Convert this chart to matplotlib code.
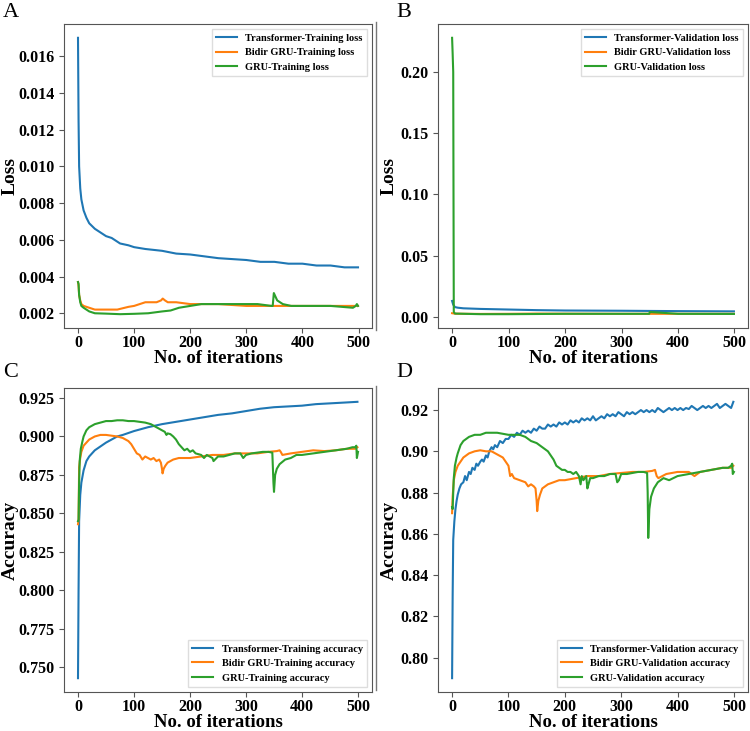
import matplotlib
matplotlib.use("Agg")
from matplotlib import pyplot as plt
from matplotlib.lines import Line2D

plt.rcParams['font.family'] = ['Liberation Serif', 'DejaVu Serif']

# ---- A: training loss ----
tr_loss_x = [0, 1, 2, 4, 6, 8, 10, 15, 20, 30, 40, 50, 60, 75, 90, 100, 120, 150, 175, 200,
             225, 250, 275, 300, 325, 350, 375, 400, 425, 450, 475, 499]
tr_loss_y = [0.0170, 0.0125, 0.0100, 0.0088, 0.0082, 0.0079, 0.0076, 0.0072, 0.0069, 0.0066,
             0.0064, 0.0062, 0.0061, 0.0058, 0.0057, 0.0056, 0.0055, 0.0054, 0.00525, 0.0052,
             0.0051, 0.0050, 0.00495, 0.0049, 0.0048, 0.0048, 0.0047, 0.0047, 0.0046, 0.0046,
             0.0045, 0.0045]
bg_loss_x = [0, 1, 2, 4, 6, 10, 20, 30, 50, 70, 90, 100, 110, 120, 130, 140, 148, 151, 155,
             160, 175, 200, 225, 250, 300, 350, 400, 450, 499]
bg_loss_y = [0.0037, 0.0035, 0.0030, 0.0027, 0.0025, 0.0024, 0.0023, 0.0022, 0.0022, 0.0022,
             0.00235, 0.0024, 0.0025, 0.0026, 0.0026, 0.0026, 0.0027, 0.0028, 0.0027, 0.0026,
             0.0026, 0.0025, 0.0025, 0.0025, 0.0024, 0.0024, 0.0024, 0.0024, 0.0024]
g_loss_x = [0, 1, 2, 4, 6, 10, 20, 30, 50, 75, 100, 125, 150, 165, 180, 200, 220, 240, 260,
            280, 300, 320, 345, 347, 349, 355, 365, 380, 400, 450, 490, 495, 497, 499]
g_loss_y = [0.0037, 0.0036, 0.0030, 0.0026, 0.0024, 0.0023, 0.0021, 0.0020, 0.00198, 0.00195,
            0.00197, 0.0020, 0.0021, 0.00215, 0.0023, 0.0024, 0.0025, 0.0025, 0.0025, 0.0025,
            0.0025, 0.0025, 0.0024, 0.0024, 0.0031, 0.0027, 0.0025, 0.0024, 0.0024, 0.0024,
            0.0023, 0.0024, 0.0025, 0.0024]

# ---- B: validation loss ----
tv_loss_x = [0, 2, 5, 10, 20, 50, 100, 150, 200, 300, 400, 499]
tv_loss_y = [0.013, 0.010, 0.008, 0.0075, 0.007, 0.0065, 0.006, 0.0055, 0.0052, 0.005,
             0.0047, 0.0045]
bgv_loss_x = [0, 5, 50, 100, 150, 200, 300, 400, 499]
bgv_loss_y = [0.003, 0.0026, 0.0024, 0.0025, 0.0027, 0.0026, 0.0025, 0.0025, 0.0025]
gv_loss_x = [0, 1, 2, 3, 5, 50, 100, 200, 300, 349, 350, 400, 499]
gv_loss_y = [0.228, 0.215, 0.200, 0.004, 0.0027, 0.0022, 0.0022, 0.0025, 0.0025, 0.0025,
             0.004, 0.0025, 0.0024]

# ---- C: training accuracy ----
tr_acc_x = [0, 1, 2, 4, 6, 10, 15, 20, 30, 40, 50, 60, 70, 80, 100, 125, 150, 175, 200, 225,
            250, 275, 300, 325, 350, 375, 400, 425, 450, 475, 499]
tr_acc_y = [0.743, 0.800, 0.845, 0.862, 0.870, 0.878, 0.884, 0.887, 0.891, 0.8935, 0.896,
            0.898, 0.900, 0.901, 0.9035, 0.906, 0.908, 0.9095, 0.911, 0.9125, 0.914, 0.915,
            0.9165, 0.918, 0.919, 0.9195, 0.920, 0.921, 0.9215, 0.922, 0.9225]
bg_acc_x = [0, 1, 2, 4, 6, 10, 20, 30, 40, 50, 60, 70, 80, 90, 95, 100, 105, 110, 115, 120,
            125, 130, 135, 140, 145, 148, 150, 151, 153, 156, 160, 170, 180, 190, 200, 220, 240,
            260, 280, 300, 320, 340, 355, 360, 362, 365, 380, 400, 420, 440, 460, 480, 495, 499]
bg_acc_y = [0.843, 0.846, 0.880, 0.886, 0.890, 0.894, 0.898, 0.900, 0.901, 0.901, 0.9005,
            0.900, 0.899, 0.897, 0.895, 0.892, 0.889, 0.888, 0.885, 0.887, 0.886, 0.885,
            0.886, 0.884, 0.885, 0.883, 0.879, 0.876, 0.879, 0.881, 0.883, 0.885, 0.886,
            0.886, 0.886, 0.887, 0.888, 0.888, 0.889, 0.889, 0.889, 0.890, 0.8905, 0.891,
            0.890, 0.888, 0.889, 0.890, 0.891, 0.8905, 0.891, 0.892, 0.892, 0.893]
g_acc_x = [0, 1, 2, 3, 5, 8, 10, 15, 20, 30, 40, 50, 60, 70, 80, 90, 100, 110, 120, 130, 140,
           150, 155, 158, 160, 165, 170, 175, 180, 185, 190, 195, 200, 205, 210, 220, 225, 230,
           240, 242, 250, 260, 270, 280, 290, 295, 300, 310, 320, 330, 340, 347, 349, 350, 352,
           355, 360, 370, 380, 390, 400, 420, 440, 460, 480, 490, 495, 497, 498, 500]
g_acc_y = [0.845, 0.846, 0.870, 0.884, 0.892, 0.897, 0.900, 0.904, 0.906, 0.908, 0.909, 0.910,
           0.910, 0.9105, 0.9105, 0.910, 0.910, 0.9095, 0.909, 0.908, 0.906, 0.904, 0.903,
           0.901, 0.902, 0.9015, 0.900, 0.898, 0.895, 0.893, 0.891, 0.892, 0.890, 0.891,
           0.889, 0.888, 0.886, 0.888, 0.886, 0.884, 0.887, 0.887, 0.888, 0.889, 0.889, 0.886,
           0.888, 0.889, 0.8895, 0.890, 0.890, 0.8895, 0.870, 0.864, 0.875, 0.879, 0.882,
           0.885, 0.886, 0.888, 0.888, 0.889, 0.890, 0.891, 0.892, 0.893, 0.893, 0.894, 0.886,
           0.890]

# ---- D: validation accuracy ----
tv_acc_x = [0, 1, 2, 4, 6, 8, 10, 13, 16, 20, 23, 26, 30, 33, 36, 40, 43, 46, 50, 53, 56, 60,
            63, 66, 70, 73, 76, 80, 85, 90, 95,
            100, 105, 110, 115, 120, 125, 130, 135, 140, 145, 150, 155, 160, 165, 170, 175,
            180, 185, 190, 195, 200, 205, 210, 215, 220, 225, 230, 235, 240, 245, 250, 255,
            260, 265, 270, 275, 280, 285, 290, 295, 300, 305, 310, 315, 320, 325, 330, 335,
            340, 345, 350, 355, 360, 365, 370, 375, 380, 385, 390, 395, 400, 405, 410, 415,
            420, 425, 430, 435, 440, 445, 450, 455, 460, 465, 470, 475, 480, 485, 490, 495, 499]
tv_acc_y = [0.790, 0.830, 0.857, 0.866, 0.872, 0.876, 0.879, 0.882, 0.884, 0.885, 0.888,
            0.886, 0.890, 0.889, 0.892, 0.891, 0.894, 0.893, 0.895, 0.896, 0.895, 0.898,
            0.897, 0.900, 0.902, 0.901, 0.903, 0.902, 0.905, 0.904, 0.906,
            0.906, 0.908, 0.907, 0.909, 0.908, 0.910, 0.909, 0.910, 0.909, 0.911, 0.910,
            0.912, 0.911, 0.911, 0.913, 0.912, 0.913, 0.912, 0.914, 0.913, 0.914, 0.913,
            0.915, 0.914, 0.915, 0.914, 0.916, 0.915, 0.916, 0.915, 0.917, 0.915, 0.916,
            0.917, 0.916, 0.918, 0.917, 0.918, 0.917, 0.919, 0.918, 0.917, 0.919, 0.918,
            0.919, 0.918, 0.919, 0.920, 0.919, 0.920, 0.919, 0.920, 0.919, 0.921, 0.920,
            0.919, 0.920, 0.921, 0.920, 0.921, 0.920, 0.921, 0.920, 0.921, 0.9205, 0.922,
            0.921, 0.920, 0.921, 0.922, 0.921, 0.922, 0.921, 0.922, 0.923, 0.921, 0.922,
            0.923, 0.922, 0.921, 0.924]
bg_vacc_x = [0, 1, 3, 6, 10, 20, 30, 40, 50, 60, 70, 80, 90, 95, 100, 103, 106, 110, 120, 130,
             135, 140, 145, 148, 150, 151, 153, 156, 160, 170, 180, 190, 200, 220, 240, 260,
             280, 300, 320, 340, 355, 360, 363, 366, 380, 400, 420, 430, 440, 460, 480, 495,
             499]
bg_vacc_y = [0.870, 0.878, 0.886, 0.890, 0.893, 0.897, 0.899, 0.900, 0.9005, 0.900, 0.900,
             0.8985, 0.897, 0.895, 0.893, 0.888, 0.889, 0.887, 0.886, 0.885, 0.883, 0.884,
             0.883, 0.882, 0.876, 0.871, 0.876, 0.879, 0.882, 0.884, 0.885, 0.886, 0.886,
             0.887, 0.888, 0.888, 0.889, 0.8895, 0.890, 0.890, 0.8905, 0.891, 0.888, 0.887,
             0.889, 0.890, 0.890, 0.888, 0.890, 0.891, 0.892, 0.892, 0.893]
g_vacc_x = [0, 1, 2, 3, 5, 8, 10, 15, 20, 30, 40, 50, 60, 70, 80, 90, 100, 110, 120, 130, 140,
            150, 160, 165, 170, 175, 180, 185, 190, 195, 200, 205, 210, 215, 220, 225, 228, 230,
            233, 238, 240, 242, 245, 250, 260, 270, 280, 290, 293, 296, 300, 310, 320, 330,
            340, 346, 347, 348, 350, 353, 358, 365, 375, 385, 400, 420, 440, 460, 480, 490,
            495, 497, 498, 500]
g_vacc_y = [0.873, 0.872, 0.880, 0.887, 0.893, 0.897, 0.899, 0.903, 0.905, 0.907, 0.908,
            0.908, 0.909, 0.909, 0.909, 0.9085, 0.908, 0.908, 0.908, 0.907, 0.905, 0.904,
            0.902, 0.901, 0.900, 0.898, 0.896, 0.893, 0.892, 0.891, 0.891, 0.890, 0.890,
            0.889, 0.890, 0.888, 0.884, 0.888, 0.886, 0.888, 0.882, 0.884, 0.887, 0.887,
            0.888, 0.888, 0.889, 0.889, 0.885, 0.886, 0.889, 0.889, 0.8895, 0.890, 0.890,
            0.8895, 0.880, 0.858, 0.872, 0.878, 0.882, 0.885, 0.887, 0.886, 0.888, 0.889,
            0.890, 0.891, 0.892, 0.892, 0.893, 0.894, 0.889, 0.890]

panels = [
    ('A', 'Loss', [(tr_loss_x, tr_loss_y, 'Transformer-Training loss'),
                   (bg_loss_x, bg_loss_y, 'Bidir GRU-Training loss'),
                   (g_loss_x, g_loss_y, 'GRU-Training loss')], 'upper right'),
    ('B', 'Loss', [(tv_loss_x, tv_loss_y, 'Transformer-Validation loss'),
                   (bgv_loss_x, bgv_loss_y, 'Bidir GRU-Validation loss'),
                   (gv_loss_x, gv_loss_y, 'GRU-Validation loss')], 'upper right'),
    ('C', 'Accuracy', [(tr_acc_x, tr_acc_y, 'Transformer-Training accuracy'),
                       (bg_acc_x, bg_acc_y, 'Bidir GRU-Training accuracy'),
                       (g_acc_x, g_acc_y, 'GRU-Training accuracy')], 'lower right'),
    ('D', 'Accuracy', [(tv_acc_x, tv_acc_y, 'Transformer-Validation accuracy'),
                       (bg_vacc_x, bg_vacc_y, 'Bidir GRU-Validation accuracy'),
                       (g_vacc_x, g_vacc_y, 'GRU-Validation accuracy')], 'lower right'),
]

W, H = 750, 731
boxes = [(64, 24, 372, 328), (438, 24, 748, 328), (64, 388, 372, 692), (438, 388, 748, 692)]
letter_pos = [(3, 3), (396, 3), (3, 363), (396, 363)]
ylabel_x = [10, 389, 10, 389]
colors = ['#1f77b4', '#ff7f0e', '#2ca02c']

fig = plt.figure(figsize=(7.5, 7.31), dpi=100)
for (letter, ylab, series, loc), (x0, y0, x1, y1), (lx, ly), yl in zip(panels, boxes,
                                                                        letter_pos, ylabel_x):
    ax = fig.add_axes([x0 / W, 1 - y1 / H, (x1 - x0) / W, (y1 - y0) / H])
    for (xs, ys, lab), c in zip(series, colors):
        ax.plot(xs, ys, color=c, lw=1.5, label=lab)
    ax.set_xticks([0, 100, 200, 300, 400, 500])
    ax.set_xlabel('No. of iterations', fontsize=13.5, fontweight='bold', va='baseline')
    ax.xaxis.set_label_coords(0.5, -35 / (y1 - y0))
    ax.set_ylabel(ylab, fontsize=14, fontweight='bold', va='center')
    ax.yaxis.set_label_coords((yl - x0) / (x1 - x0), 0.5)
    for t in ax.get_xticklabels() + ax.get_yticklabels():
        t.set_fontweight('bold')
        t.set_fontsize(11.5)
    for s in ax.spines.values():
        s.set_color('#555555')
    ax.tick_params(color='#555555')
    ax.tick_params(axis='x', pad=1.5)
    ax.legend(loc=loc, prop={'weight': 'bold', 'size': 7.5}, fancybox=False,
              framealpha=1, edgecolor='#dddddd')
    fig.text(lx / W, 1 - ly / H, letter, fontsize=16, va='top', ha='left')

# thin border left over between the panels
fig.add_artist(Line2D([376 / W, 376 / W], [1 - 330 / H, 1 - 22 / H], color='#777777', lw=1))
fig.add_artist(Line2D([376 / W, 376 / W], [1 - 690 / H, 1 - 386 / H], color='#777777', lw=1))

fig.savefig('out.png', dpi=100)
